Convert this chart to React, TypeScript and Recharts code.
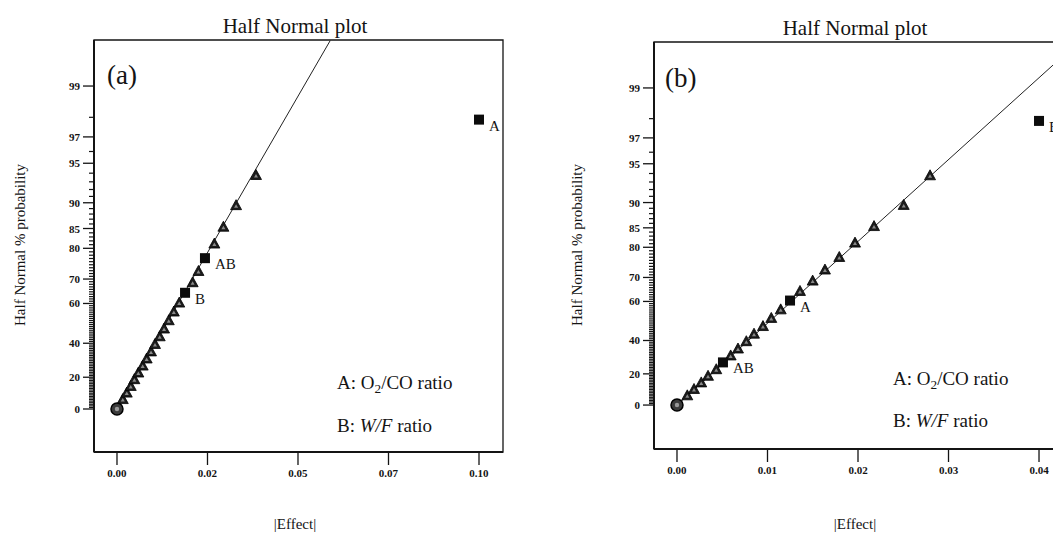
import React from 'react';
import { ScatterChart, Scatter, XAxis, YAxis, ReferenceArea } from 'recharts';

// panel (a): ranked effects, |effect| and half normal %
const aTriEffect = [0.0016, 0.0027, 0.0038, 0.0048, 0.0059, 0.0071, 0.0082, 0.0094, 0.0105, 0.0118, 0.0130, 0.0143, 0.0157, 0.0172, 0.0209, 0.0225, 0.0269, 0.0294, 0.0329, 0.0384];
const aTriPct = [6.3, 10.4, 14.6, 18.8, 22.9, 27.1, 31.3, 35.4, 39.6, 43.8, 47.9, 52.1, 56.3, 60.4, 68.8, 72.9, 81.3, 85.4, 89.6, 93.8];
const aTermName = ['A', 'AB', 'B'];
const aTermEffect = [0.1, 0.0243, 0.0188];
const aTermPct = [97.9, 77.1, 64.6];
const aZeroEffect = [0];
const aZeroPct = [0];
const aFitEffect = [0, 0.0589];
const aFitPct = [0, 99.67];
const aXTicks = [0, 0.025, 0.05, 0.075, 0.1];
const aXLabels = ['0.00', '0.02', '0.05', '0.07', '0.10'];

// panel (b)
const bTriEffect = [0.00114, 0.00188, 0.00268, 0.00343, 0.00434, 0.00593, 0.00674, 0.00766, 0.00851, 0.0095, 0.01042, 0.01146, 0.01359, 0.01499, 0.01635, 0.01793, 0.01967, 0.02177, 0.02505, 0.02796];
const bTriPct = [6.3, 10.4, 14.6, 18.8, 22.9, 31.3, 35.4, 39.6, 43.8, 47.9, 52.1, 56.3, 64.6, 68.8, 72.9, 77.1, 81.3, 85.4, 89.6, 93.8];
const bTermName = ['B', 'A', 'AB'];
const bTermEffect = [0.04, 0.01249, 0.00508];
const bTermPct = [97.9, 60.4, 27.1];
const bZeroEffect = [0];
const bZeroPct = [0];
const bFitEffect = [0, 0.04435];
const bFitPct = [0, 99.68];
const bXTicks = [0, 0.01, 0.02, 0.03, 0.04];
const bXLabels = ['0.00', '0.01', '0.02', '0.03', '0.04'];

const yMajorPct = [0, 20, 40, 60, 70, 80, 85, 90, 95, 97, 99];
const yMajorLabels = ['0', '20', '40', '60', '70', '80', '85', '90', '95', '97', '99'];

const SERIF = '"Liberation Serif", "DejaVu Serif", serif';
const INK = '#141414';

// inverse normal cdf (Acklam)
function probit(p: number) {
  const a = [-39.69683028665376, 220.9460984245205, -275.9285104469687, 138.357751867269, -30.66479806614716, 2.506628277459239];
  const b = [-54.47609879822406, 161.5858368580409, -155.6989798598866, 66.80131188771972, -13.28068155288572];
  const c = [-0.007784894002430293, -0.3223964580411365, -2.400758277161838, -2.549732539343734, 4.374664141464968, 2.938163982698783];
  const d = [0.007784695709041462, 0.3224671290700398, 2.445134137142996, 3.754408661907416];
  const lo = 0.02425;
  if (p < lo) {
    const q = Math.sqrt(-2 * Math.log(p));
    return (((((c[0] * q + c[1]) * q + c[2]) * q + c[3]) * q + c[4]) * q + c[5]) / ((((d[0] * q + d[1]) * q + d[2]) * q + d[3]) * q + 1);
  }
  if (p > 1 - lo) {
    const q = Math.sqrt(-2 * Math.log(1 - p));
    return -(((((c[0] * q + c[1]) * q + c[2]) * q + c[3]) * q + c[4]) * q + c[5]) / ((((d[0] * q + d[1]) * q + d[2]) * q + d[3]) * q + 1);
  }
  const q = p - 0.5;
  const r = q * q;
  return ((((((a[0] * r + a[1]) * r + a[2]) * r + a[3]) * r + a[4]) * r + a[5]) * q) / (((((b[0] * r + b[1]) * r + b[2]) * r + b[3]) * r + b[4]) * r + 1);
}
// half normal % probability -> axis position
const hnz = (pct: number) => (pct <= 0 ? 0 : probit(0.5 + pct / 200));

const yMajorZ = yMajorPct.map(hnz);
const yMinorZ = Array.from({ length: 99 }, (_, k) => k + 1)
  .filter((p) => !yMajorPct.includes(p))
  .map(hnz);
const yTicks = [...yMajorZ, ...yMinorZ];

const pts = (xs: number[], ps: number[], names?: string[]) =>
  xs.map((x, i) => ({ x, y: hnz(ps[i]), name: names ? names[i] : '' }));

function YTick({ x, y, payload }: any) {
  const i = yMajorZ.findIndex((z) => Math.abs(z - payload.value) < 1e-9);
  if (i < 0) return <line x1={x - 5} x2={x + 1} y1={y} y2={y} stroke={INK} strokeWidth={1.2} />;
  return (
    <g>
      <line x1={x - 11} x2={x} y1={y} y2={y} stroke={INK} strokeWidth={1.3} />
      <text x={x - 14} y={y + 4} textAnchor="end" fontSize={11} fontWeight="bold" fontFamily={SERIF} fill={INK}>
        {yMajorLabels[i]}
      </text>
    </g>
  );
}

const Triangle = ({ cx, cy }: any) => (
  <g>
    <path d={`M${cx},${cy - 5.5} L${cx + 5.5},${cy + 4.5} L${cx - 5.5},${cy + 4.5} Z`} fill="#1c1c1c" stroke="#000" strokeWidth={0.8} />
    <path d={`M${cx},${cy - 1} L${cx + 2},${cy + 2.5} L${cx - 2},${cy + 2.5} Z`} fill="#8a8a8a" />
  </g>
);

const Square = ({ cx, cy, payload }: any) => (
  <g>
    <rect x={cx - 5} y={cy - 5} width={10} height={10} fill="#0c0c0c" />
    <text x={cx + 10} y={cy + 11} fontSize={15} fontFamily={SERIF} fill={INK}>
      {payload.name}
    </text>
  </g>
);

const Ring = ({ cx, cy }: any) => (
  <g>
    <circle cx={cx} cy={cy} r={6} fill="#3a3a3a" stroke="#000" strokeWidth={1.5} />
    <circle cx={cx} cy={cy} r={2.2} fill="#999" />
  </g>
);

const NoDot = () => <g />;

type PanelProps = {
  left: number;
  width: number;
  margin: { top: number; right: number; bottom: number; left: number };
  xDomain: [number, number];
  yDomain: [number, number];
  xTicks: number[];
  xLabels: string[];
  tri: { x: number; y: number }[];
  terms: { x: number; y: number; name: string }[];
  zero: { x: number; y: number }[];
  fit: { x: number; y: number }[];
};

function Panel(p: PanelProps) {
  return (
    <div style={{ position: 'absolute', left: p.left, top: 0 }}>
      <ScatterChart width={p.width} height={539} margin={p.margin}>
        <XAxis
          type="number"
          dataKey="x"
          domain={p.xDomain}
          allowDataOverflow
          ticks={p.xTicks}
          interval={0}
          tickFormatter={(v: number) => p.xLabels[p.xTicks.findIndex((t) => Math.abs(t - v) < 1e-9)]}
          height={40}
          tickSize={13}
          tickMargin={4}
          axisLine={{ stroke: INK, strokeWidth: 2 }}
          tickLine={{ stroke: INK, strokeWidth: 1.3 }}
          tick={{ fontSize: 11, fontWeight: 'bold', fill: INK, fontFamily: SERIF }}
        />
        <YAxis
          type="number"
          dataKey="y"
          domain={p.yDomain}
          allowDataOverflow
          ticks={yTicks}
          interval={0}
          width={60}
          tickSize={0}
          tickMargin={0}
          tickLine={false}
          axisLine={{ stroke: INK, strokeWidth: 2 }}
          tick={<YTick />}
        />
        <ReferenceArea
          x1={p.xDomain[0]}
          x2={p.xDomain[1]}
          y1={p.yDomain[0]}
          y2={p.yDomain[1]}
          fill="none"
          stroke={INK}
          strokeWidth={1.3}
          ifOverflow="visible"
        />
        <Scatter data={p.fit} line={{ stroke: '#222', strokeWidth: 1 }} shape={<NoDot />} isAnimationActive={false} />
        <Scatter data={p.tri} shape={<Triangle />} isAnimationActive={false} />
        <Scatter data={p.zero} shape={<Ring />} isAnimationActive={false} />
        <Scatter data={p.terms} shape={<Square />} isAnimationActive={false} />
      </ScatterChart>
    </div>
  );
}

const abs = (x: number, y: number, extra: React.CSSProperties = {}): React.CSSProperties => ({
  position: 'absolute',
  left: x,
  top: y,
  whiteSpace: 'nowrap',
  lineHeight: 1,
  fontFamily: SERIF,
  color: INK,
  ...extra,
});

function Legend({ x, y1, y2 }: { x: number; y1: number; y2: number }) {
  return (
    <>
      <div style={abs(x, y1, { fontSize: 19, transform: 'translateY(-50%)' })}>
        A: O<sub style={{ fontSize: '0.7em', verticalAlign: '-0.25em' }}>2</sub>/CO ratio
      </div>
      <div style={abs(x, y2, { fontSize: 19, transform: 'translateY(-50%)' })}>
        B: <i>W/F</i> ratio
      </div>
    </>
  );
}

function Texts({ cx, yLabelX, tag, tagX, tagY, legendX, ly1, ly2, titleY }: any) {
  return (
    <>
      <div style={abs(cx, titleY, { fontSize: 21, transform: 'translate(-50%, -50%)' })}>Half Normal plot</div>
      <div style={abs(tagX, tagY, { fontSize: 27, transform: 'translateY(-50%)' })}>{tag}</div>
      <div style={abs(yLabelX, 245, { fontSize: 15, transform: 'translate(-50%, -50%) rotate(-90deg)' })}>
        Half Normal % probability
      </div>
      <div style={abs(cx, 524, { fontSize: 15, transform: 'translate(-50%, -50%)' })}>|Effect|</div>
      <Legend x={legendX} y1={ly1} y2={ly2} />
    </>
  );
}

export default function App() {
  return (
    <div style={{ position: 'fixed', left: 0, top: 0, width: 1053, height: 539, overflow: 'hidden', background: '#fff' }}>
      <Panel
        left={0}
        width={530}
        margin={{ top: 40, right: 27, bottom: 47, left: 34 }}
        xDomain={[-0.00635, 0.10663]}
        yDomain={[-0.343, 2.943]}
        xTicks={aXTicks}
        xLabels={aXLabels}
        tri={pts(aTriEffect, aTriPct)}
        terms={pts(aTermEffect, aTermPct, aTermName)}
        zero={pts(aZeroEffect, aZeroPct)}
        fit={pts(aFitEffect, aFitPct)}
      />
      <Panel
        left={530}
        width={560}
        margin={{ top: 42, right: 27, bottom: 50, left: 64 }}
        xDomain={[-0.00254, 0.04265]}
        yDomain={[-0.357, 2.949]}
        xTicks={bXTicks}
        xLabels={bXLabels}
        tri={pts(bTriEffect, bTriPct)}
        terms={pts(bTermEffect, bTermPct, bTermName)}
        zero={pts(bZeroEffect, bZeroPct)}
        fit={pts(bFitEffect, bFitPct)}
      />
      <Texts cx={295} titleY={26} yLabelX={20} tag="(a)" tagX={107} tagY={75} legendX={337} ly1={384} ly2={425} />
      <Texts cx={855} titleY={28} yLabelX={577} tag="(b)" tagX={665} tagY={78} legendX={893} ly1={380} ly2={420} />
    </div>
  );
}
